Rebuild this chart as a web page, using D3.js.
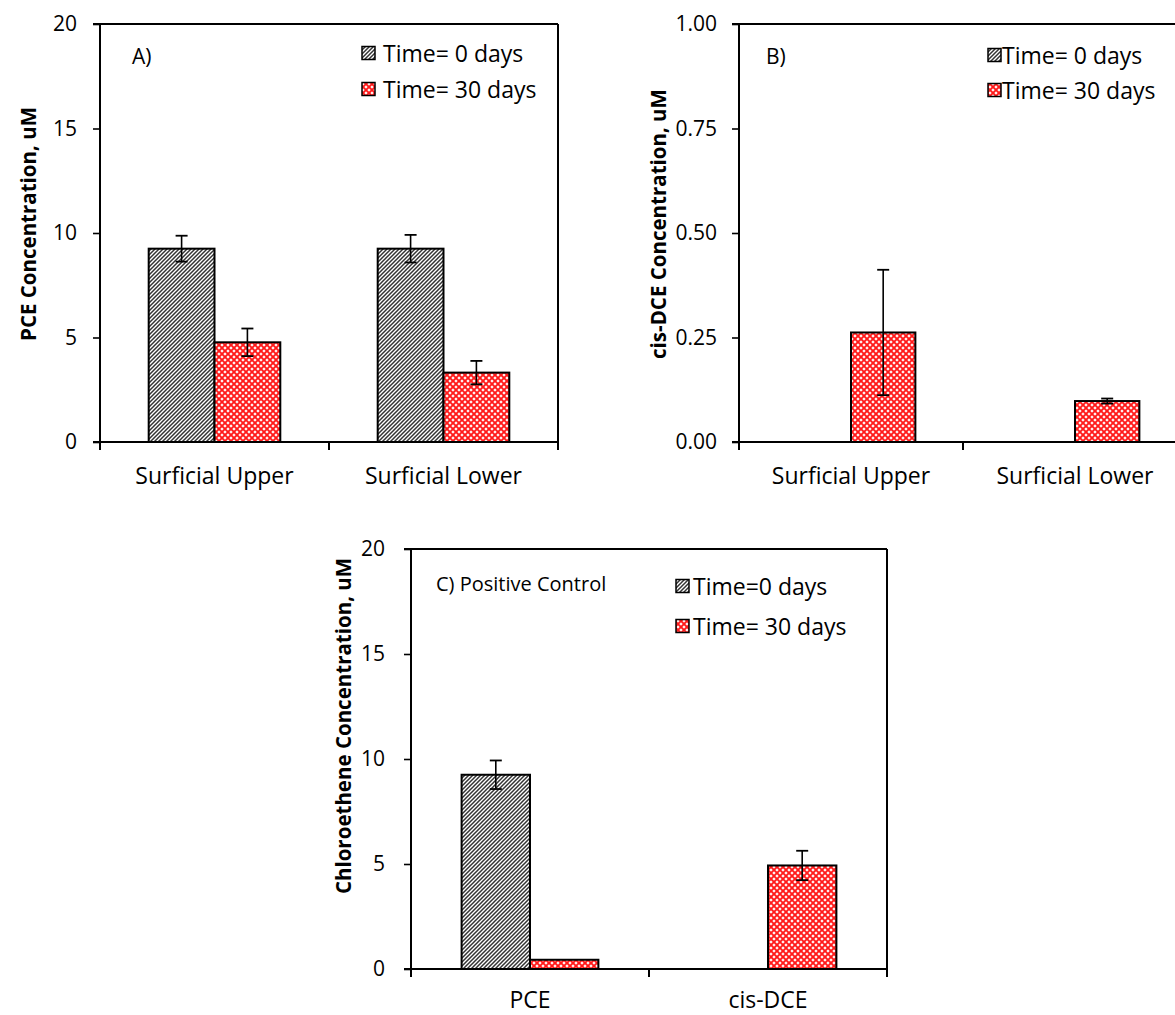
<!DOCTYPE html>
<html>
<head>
<meta charset="utf-8">
<script src="https://cdn.jsdelivr.net/npm/d3@7"></script>
<style>
  html, body { margin: 0; padding: 0; background: #fff; }
  svg { display: block; font-family: "Open Sans", "DejaVu Sans", sans-serif; }
</style>
</head>
<body>
<svg id="chart" width="1175" height="1015"></svg>
<script>
// ---------- data ----------
const siteCategories = ["Surficial Upper", "Surficial Lower"];
const controlCategories = ["PCE", "cis-DCE"];
const seriesNamesAB = ["Time= 0 days", "Time= 30 days"];
const seriesNamesC = ["Time=0 days", "Time= 30 days"];

// Panel A: PCE concentration (uM)
const pceDay0 = [9.25, 9.25];
const pceDay0Err = [0.62, 0.66];
const pceDay30 = [4.77, 3.32];
const pceDay30Err = [0.66, 0.56];

// Panel B: cis-DCE concentration (uM)
const dceDay0 = [0, 0];
const dceDay0Err = [0, 0];
const dceDay30 = [0.262, 0.098];
const dceDay30Err = [0.150, 0.006];

// Panel C: positive control
const ctrlDay0 = [9.25, 0];
const ctrlDay0Err = [0.68, 0];
const ctrlDay30 = [0.44, 4.93];
const ctrlDay30Err = [0, 0.70];

const ticksAC = [0, 5, 10, 15, 20];
const ticksB = [0, 0.25, 0.5, 0.75, 1.0];

// ---------- drawing ----------
const svg = d3.select("#chart");
const defs = svg.append("defs");

// diagonal hatch (time 0)
const hatch = defs.append("pattern").attr("id", "hatch")
  .attr("patternUnits", "userSpaceOnUse").attr("width", 4).attr("height", 4);
hatch.append("rect").attr("width", 4).attr("height", 4).attr("fill", "#fff");
hatch.append("path").attr("d", "M-1,1 L1,-1 M0,4 L4,0 M3,5 L5,3")
  .attr("stroke", "#333").attr("stroke-width", 1.5);

// red lattice (time 30)
const lattice = defs.append("pattern").attr("id", "lattice")
  .attr("patternUnits", "userSpaceOnUse").attr("width", 6).attr("height", 6);
lattice.append("rect").attr("width", 6).attr("height", 6).attr("fill", "#ffc8c8");
lattice.append("path").attr("d", "M0,0 L6,6 M6,0 L0,6 M-3,3 L0,6 M3,-3 L6,0 M3,9 L6,6 M9,3 L6,0")
  .attr("stroke", "#ff1a1a").attr("stroke-width", 1.7);
[[3, 0], [0, 3], [6, 3], [3, 6]].forEach(([cx, cy]) =>
  lattice.append("circle").attr("cx", cx).attr("cy", cy).attr("r", 0.9).attr("fill", "#fff"));

const fills = ["url(#hatch)", "url(#lattice)"];
const FS = 23;      // category & legend text
const TFS = 21;     // tick labels
const TITLE_FS = 20.5;

function panel(cfg) {
  const g = svg.append("g");
  const y = d3.scaleLinear().domain([0, cfg.yMax]).range([cfg.bottom, cfg.top]);
  const x = d3.scaleBand().domain(cfg.categories).range([cfg.left, cfg.right]).padding(0);
  const xs = d3.scaleBand().domain([0, 1]).range([0, x.bandwidth()]).paddingInner(0).paddingOuter(0.74);

  // bars
  cfg.series.forEach((s, si) => {
    s.values.forEach((v, ci) => {
      if (!v) return;
      const bx = x(cfg.categories[ci]) + xs(si);
      g.append("rect")
        .attr("x", bx).attr("y", y(v))
        .attr("width", xs.bandwidth()).attr("height", y(0) - y(v))
        .attr("fill", fills[si]).attr("stroke", "#000").attr("stroke-width", 2);
    });
  });
  // error bars
  cfg.series.forEach((s, si) => {
    s.values.forEach((v, ci) => {
      const e = s.errors[ci];
      if (!v || !e) return;
      const cx = x(cfg.categories[ci]) + xs(si) + xs.bandwidth() / 2;
      const y1 = y(v + e), y2 = y(v - e);
      g.append("line").attr("x1", cx).attr("x2", cx).attr("y1", y1).attr("y2", y2)
        .attr("stroke", "#000").attr("stroke-width", 1.6);
      [y1, y2].forEach(yy => g.append("line").attr("x1", cx - 6).attr("x2", cx + 6)
        .attr("y1", yy).attr("y2", yy).attr("stroke", "#000").attr("stroke-width", 1.8));
    });
  });

  // frame
  const lw = 2;
  g.append("line").attr("x1", cfg.left - 7).attr("x2", cfg.right).attr("y1", cfg.top).attr("y2", cfg.top)
    .attr("stroke", "#000").attr("stroke-width", lw);
  g.append("line").attr("x1", cfg.right).attr("x2", cfg.right).attr("y1", cfg.top).attr("y2", cfg.bottom + 8)
    .attr("stroke", "#000").attr("stroke-width", lw);
  g.append("line").attr("x1", cfg.left - 7).attr("x2", cfg.right).attr("y1", cfg.bottom).attr("y2", cfg.bottom)
    .attr("stroke", "#000").attr("stroke-width", lw);
  g.append("line").attr("x1", cfg.left).attr("x2", cfg.left).attr("y1", cfg.top).attr("y2", cfg.bottom + 8)
    .attr("stroke", "#000").attr("stroke-width", lw);

  // y axis ticks & labels
  const ya = d3.axisLeft(y).tickValues(cfg.ticks).tickFormat(cfg.fmt).tickSize(7).tickPadding(cfg.tickPad);
  const yg = g.append("g").attr("transform", `translate(${cfg.left},0)`).call(ya);
  yg.select(".domain").remove();
  yg.selectAll(".tick line").attr("stroke", "#000").attr("stroke-width", 1.6);
  yg.selectAll("text").attr("font-size", TFS).attr("fill", "#000")
    .attr("font-family", "'Open Sans', sans-serif");

  // category boundary ticks
  cfg.categories.slice(1).forEach(c => {
    g.append("line").attr("x1", x(c)).attr("x2", x(c)).attr("y1", cfg.bottom).attr("y2", cfg.bottom + 8)
      .attr("stroke", "#000").attr("stroke-width", lw);
  });
  // category labels
  cfg.categories.forEach(c => {
    g.append("text").attr("x", x(c) + x.bandwidth() / 2).attr("y", cfg.bottom + cfg.catDy)
      .attr("text-anchor", "middle").attr("dominant-baseline", "central")
      .attr("font-size", FS).text(c);
  });

  // y title
  g.append("text").attr("transform", `translate(${cfg.yTitleX},${cfg.yTitleY}) rotate(-90)`)
    .attr("text-anchor", "middle").attr("dominant-baseline", "central")
    .attr("font-size", TITLE_FS).attr("font-weight", "bold").text(cfg.yTitle);

  // panel label
  g.append("text").attr("x", cfg.labelX).attr("y", cfg.labelY).attr("dominant-baseline", "central")
    .attr("font-size", cfg.labelSize).text(cfg.label);

  // legend
  cfg.series.forEach((s, si) => {
    const ly = cfg.legendY[si];
    g.append("rect").attr("x", cfg.legendX).attr("y", ly - 6.5).attr("width", 13).attr("height", 13)
      .attr("fill", fills[si]).attr("stroke", "#000").attr("stroke-width", 1.5);
    g.append("text").attr("x", cfg.legendTextX).attr("y", ly).attr("dominant-baseline", "central")
      .attr("font-size", FS).text(s.name);
  });
}

panel({
  left: 100, right: 558, top: 24, bottom: 442, yMax: 20, ticks: ticksAC, fmt: d3.format("d"), tickPad: 16,
  categories: siteCategories, catDy: 33,
  series: [
    { name: seriesNamesAB[0], values: pceDay0, errors: pceDay0Err },
    { name: seriesNamesAB[1], values: pceDay30, errors: pceDay30Err }
  ],
  yTitle: "PCE Concentration, uM", yTitleX: 28, yTitleY: 224,
  label: "A)", labelX: 132, labelY: 56, labelSize: 21,
  legendX: 362, legendTextX: 383, legendY: [53, 89]
});

panel({
  left: 739, right: 1187, top: 24, bottom: 442, yMax: 1, ticks: ticksB, fmt: d3.format(".2f"), tickPad: 15,
  categories: siteCategories, catDy: 33,
  series: [
    { name: seriesNamesAB[0], values: dceDay0, errors: dceDay0Err },
    { name: seriesNamesAB[1], values: dceDay30, errors: dceDay30Err }
  ],
  yTitle: "cis-DCE Concentration, uM", yTitleX: 658, yTitleY: 224,
  label: "B)", labelX: 766, labelY: 56, labelSize: 21,
  legendX: 988, legendTextX: 1002, legendY: [55, 90]
});

panel({
  left: 411, right: 887, top: 549, bottom: 969, yMax: 20, ticks: ticksAC, fmt: d3.format("d"), tickPad: 19,
  categories: controlCategories, catDy: 30,
  series: [
    { name: seriesNamesC[0], values: ctrlDay0, errors: ctrlDay0Err },
    { name: seriesNamesC[1], values: ctrlDay30, errors: ctrlDay30Err }
  ],
  yTitle: "Chloroethene Concentration, uM", yTitleX: 343, yTitleY: 726,
  label: "C) Positive Control", labelX: 436, labelY: 583, labelSize: 20,
  legendX: 676, legendTextX: 693, legendY: [586, 626]
});
</script>
</body>
</html>
